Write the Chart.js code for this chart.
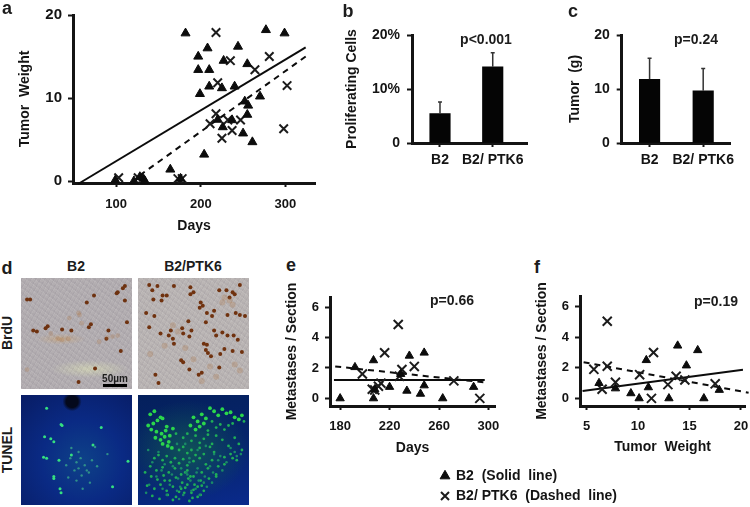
<!DOCTYPE html>
<html>
<head>
<meta charset="utf-8">
<title>Tumor panels</title>
<script src="https://cdn.jsdelivr.net/npm/chart.js@4/dist/chart.umd.min.js"></script>
<style>
  html, body { margin: 0; padding: 0; background: #fff; }
  #page { position: relative; width: 750px; height: 507px; overflow: hidden; font-family: "Liberation Sans", Arial, sans-serif; color: #1c1c1c; }
  canvas { position: absolute; filter: blur(0.4px); }
  .note { position: absolute; font-weight: bold; white-space: pre; transform: translate(-50%, -50%); }
  canvas.photo { filter: blur(0.7px); }
</style>
</head>
<body>
<div id="page"></div>
<script>
// panel a: tumor weight against days
const aTicksX = [100, 200, 300];
const aTicksY = [0, 10, 20];
const aB2Days = [182, 277, 299, 208, 244, 197, 197, 210, 227, 255, 210, 225, 240, 199, 270, 252, 256, 255, 220, 237, 226, 250, 261, 204, 164, 99, 132, 134, 128, 176, 121];
const aB2Weight = [17.8, 18.2, 17.8, 16, 16.2, 15, 13.4, 13.4, 14.5, 14.1, 11.4, 11.2, 11.4, 10.5, 10.2, 9.6, 9.1, 8, 7.4, 7.35, 6.5, 5.75, 4.7, 3.2, 1.4, 0.1, 0.3, 0, 0.5, 0.3, 0];
const aPtkDays = [218, 235, 281, 264, 220, 302, 218, 211, 232, 247, 237, 225, 298, 103, 126, 173, 178];
const aPtkWeight = [17.9, 14.5, 15, 13.4, 11.85, 11.5, 8.1, 6.9, 7.35, 7.35, 6.1, 5.15, 6.3, 0.4, 0.4, 0.3, 0.3];
const aSolidDays = [55, 324];
const aSolidFit = [-0.35, 16.1];
const aDashDays = [128, 324];
const aDashFit = [0.7, 15];

// panels b and c: bars with upward error bars
const barCats = ['B2', 'B2/ PTK6'];
const bTicksY = [0, 10, 20];
const bValues = [5.45, 14.1];
const bErrors = [2.15, 2.6];
const cTicksY = [0, 10, 20];
const cValues = [11.8, 9.66];
const cErrors = [3.9, 4.15];

// panel e: metastases against days
const metTicksY = [0, 2, 4, 6];
const eTicksX = [180, 220, 260, 300];
const eB2Days = [180, 192, 207, 207, 220, 234, 236, 245, 248, 248, 263, 288, 229, 208];
const eB2Met = [0, 2.05, 2.5, 0, 0.75, 0.5, 2.8, 0.3, 0.85, 3, 0, 0.75, 1.6, 0.6];
const ePtkDays = [198, 206, 208, 213, 211, 216, 227, 230, 228, 240, 272, 293];
const ePtkMet = [1.6, 0.6, 0.55, 1, 0.8, 3, 4.85, 1.9, 1.45, 2.1, 1.15, 0];
const eSolidDays = [175, 297];
const eSolidFit = [1.2, 1.2];
const eDashDays = [176, 297];
const eDashFit = [2.1, 1.05];

// panel f: metastases against tumor weight
const fTicksX = [5, 10, 15, 20];
const fB2Weight = [6.2, 7.8, 9.3, 10.1, 10.8, 11, 13, 13.85, 14.7, 15.8, 16.4, 17.9];
const fB2Met = [1, 0.65, 0.33, 0, 2.5, 0.72, 0, 3.45, 2.15, 3.15, 0, 0.55];
const fPtkWeight = [5.7, 6.5, 7, 7, 7.8, 10.15, 11.3, 11.5, 12.9, 13.7, 14.55, 17.5];
const fPtkMet = [1.9, 0.6, 5.05, 2.1, 1.05, 1.55, 0, 3, 0.9, 1.45, 1.2, 0.95];
const fSolidWeight = [4.6, 20.2];
const fSolidFit = [0.48, 1.87];
const fDashWeight = [4.7, 20.75];
const fDashFit = [2.37, 0.37];

// panel d: stained cells, as percent across and down each micrograph
const brduB2X = [2, 5, 8, 11.5, 20, 22, 36, 45, 60, 67, 64, 62, 81, 79, 90, 89, 97, 95, 97, 93, 52, 68, 99];
const brduB2Y = [17, 17, 47, 48, 45, 43, 46, 47, 20, 13, 41, 44, 47, 55, 10, 11, 4, 6, 18, 67, 97, 84, 39];
const brduB2PaleX = [43, 53, 52, 32, 36, 42, 80, 85, 90, 2, 25, 72, 55];
const brduB2PaleY = [35, 32, 30, 55, 56, 55, 54, 53, 52, 85, 50, 58, 40];
const brduPtkX = [7, 10, 15, 20, 24, 11, 19, 31, 47, 47, 50, 57, 56, 59, 63, 70, 68, 75, 82, 88, 90, 85, 95, 91, 95, 83, 100, 4, 12, 18, 28, 26, 30, 31, 40, 39, 45, 48, 46, 62, 70, 72, 78, 83, 89, 93, 60, 63, 64, 67, 62, 80, 88, 76, 38, 40, 75, 13, 16, 46, 55, 58, 7, 97];
const brduPtkY = [3, 8, 4, 13, 13, 17, 18, 4, 5, 12, 10, 20, 25, 23, 30, 28, 33, 8, 8, 10, 12, 15, 3, 30, 32, 32, 33, 30, 33, 50, 47, 52, 55, 60, 50, 45, 38, 47, 53, 39, 47, 52, 49, 52, 52, 56, 60, 61, 69, 72, 66, 65, 67, 70, 76, 78, 83, 90, 98, 85, 90, 88, 44, 68];
const brduPtkPaleX = [80, 85, 88, 78, 30, 35, 8, 90, 95, 50, 22, 72, 66, 42, 58];
const brduPtkPaleY = [15, 18, 22, 20, 42, 48, 70, 80, 86, 75, 62, 92, 82, 64, 96];
const tunelB2X = [21, 35, 36, 19, 25, 18, 21, 28, 74, 66, 33, 45, 28, 28, 34, 35, 85, 100];
const tunelB2Y = [9, 25, 26, 37, 39, 57, 58, 42, 28, 45, 60, 55, 76, 78, 88, 92, 86, 61];
const tunelB2DimX = [68, 54, 52, 50, 45, 60, 55, 63, 42, 50, 80, 40, 58, 65, 48, 56, 62, 44, 52, 70];
const tunelB2DimY = [47, 58, 52, 62, 48, 70, 75, 82, 77, 80, 54, 65, 65, 60, 70, 88, 72, 58, 68, 66];
// brightest cells along the top left and top band
const tunelPtkBrightX = [8, 12, 18, 6, 11, 15, 20, 24, 9, 14, 19, 23, 27, 13, 18, 22, 26, 30, 20, 25, 29, 47, 50, 54, 58, 62, 66, 70, 74, 78, 82, 86, 90, 94, 97, 52, 56, 60];
const tunelPtkBrightY = [15, 12, 18, 26, 24, 21, 19, 27, 30, 32, 34, 31, 36, 38, 40, 37, 42, 29, 44, 46, 48, 26, 18, 22, 15, 19, 9, 12, 16, 10, 14, 13, 18, 20, 16, 30, 27, 24];
const tunelPtkX = [33, 64, 68, 72, 76, 80, 84, 88, 40, 44, 48, 52, 56, 60, 64, 68, 72, 36, 40, 44, 48, 52, 56, 60, 66, 70, 78, 84, 90, 94, 99, 12, 16, 20, 24, 28, 32, 36, 40, 44, 50, 56, 62, 68, 74, 80, 86, 92, 97, 8, 14, 20, 26, 32, 38, 44, 50, 58, 64, 72, 80, 88, 3, 9, 15, 21, 27, 33, 39, 45, 51, 57, 65, 5, 12, 18, 24, 30, 36, 42, 48, 54, 60, 10, 17, 25, 33, 41, 49, 57, 72, 22, 30, 38, 46, 54, 44, 50, 58, 42, 47];
const tunelPtkY = [34, 31, 22, 28, 25, 30, 26, 24, 38, 34, 41, 36, 43, 39, 35, 44, 36, 50, 47, 53, 50, 55, 48, 54, 47, 52, 40, 46, 38, 44, 22, 58, 55, 60, 56, 62, 58, 63, 59, 65, 61, 58, 64, 60, 66, 57, 54, 60, 50, 66, 70, 67, 72, 68, 74, 70, 76, 72, 68, 74, 64, 58, 72, 76, 79, 75, 80, 77, 82, 78, 84, 80, 78, 85, 88, 84, 90, 86, 91, 87, 92, 86, 90, 95, 98, 94, 96, 92, 97, 94, 76, 80, 99, 88, 100, 96, 84, 89, 85, 72, 76];
const tunelPtkDimX = [6, 16, 34, 42, 46, 54, 62, 70, 76, 82, 86, 90, 96, 10, 22, 30, 38, 46, 54, 66, 74, 78, 92, 7, 19, 29, 35, 43, 53, 61, 69, 4, 14, 27, 37, 47, 55, 63, 20, 34, 44, 52, 60, 68, 24, 40, 48, 36, 56];
const tunelPtkDimY = [50, 52, 44, 44, 58, 50, 46, 54, 56, 62, 48, 52, 54, 62, 64, 66, 68, 62, 68, 66, 60, 70, 56, 84, 70, 74, 78, 72, 72, 76, 72, 92, 76, 84, 86, 80, 80, 86, 88, 90, 74, 88, 82, 82, 94, 94, 90, 98, 94];

const ink = '#141414';
const tickFont = { family: 'Liberation Sans', weight: 'bold', size: 13 };
const largeFont = { family: 'Liberation Sans', weight: 'bold', size: 14 };
const page = document.getElementById('page');
const lineH = 16.8;

function toPoints(xs, ys) {
  return xs.map((x, i) => ({ x: x, y: ys[i] }));
}

function note(text, x, y, size, rotate) {
  const div = document.createElement('div');
  div.className = 'note';
  div.textContent = text;
  div.style.left = x + 'px';
  div.style.top = y + 'px';
  div.style.fontSize = size + 'px';
  if (rotate) div.style.transform = 'translate(-50%, -50%) rotate(-90deg)';
  page.appendChild(div);
}

function addCanvas(left, top, w, h) {
  const canvas = document.createElement('canvas');
  canvas.width = w;
  canvas.height = h;
  canvas.style.left = left + 'px';
  canvas.style.top = top + 'px';
  canvas.style.width = w + 'px';
  canvas.style.height = h + 'px';
  page.appendChild(canvas);
  return canvas;
}

// upward-only error bars, placed with the chart's own scales
const errorBars = {
  id: 'errorBars',
  afterDatasetsDraw(chart, args, opts) {
    if (!opts.values) return;
    const ctx = chart.ctx;
    ctx.save();
    ctx.strokeStyle = '#333';
    ctx.lineWidth = 1.5;
    opts.values.forEach((v, i) => {
      const x = chart.scales.x.getPixelForValue(i + 1);
      const y0 = chart.scales.y.getPixelForValue(v);
      const y1 = chart.scales.y.getPixelForValue(v + opts.errors[i]);
      ctx.beginPath();
      ctx.moveTo(x, y0);
      ctx.lineTo(x, y1);
      ctx.moveTo(x - 2, y1);
      ctx.lineTo(x + 2, y1);
      ctx.stroke();
    });
    ctx.restore();
  }
};
Chart.register(errorBars);

function axisStyle(a) {
  const axis = {
    type: 'linear',
    min: a.min,
    max: a.max,
    offset: false,
    grid: { drawOnChartArea: false, drawTicks: true, tickLength: a.horizontal ? 4 : 5, tickWidth: 2, color: ink, offset: false },
    border: { display: true, color: ink, width: 3 },
    afterBuildTicks: s => { s.ticks = a.ticks.map(v => ({ value: v })); },
    ticks: { font: a.font || tickFont, color: ink, padding: a.pad, autoSkip: false, maxRotation: 0, minRotation: 0 },
    afterFit: s => { if (a.horizontal) s.height = a.box; else s.width = a.box; }
  };
  if (a.label) axis.ticks.callback = a.label;
  axis.title = a.title
    ? { display: true, text: a.title, font: largeFont, color: ink, padding: 0 }
    : { display: false };
  return axis;
}

// chart area edges given in page pixels, converted to the library's padding
function panelLayout(p) {
  const padLeft = p.yTitleX - p.left - lineH / 2;
  const padBottom = p.xTitleY ? p.h - (p.xTitleY - p.top) - lineH / 2 : 0;
  return {
    padding: { left: padLeft, top: p.areaT - p.top, right: p.left + p.w - p.areaR, bottom: padBottom },
    yBox: p.areaL - p.left - padLeft,
    xBox: p.top + p.h - padBottom - p.areaB
  };
}

function scatterPanel(p) {
  const lay = panelLayout(p);
  new Chart(addCanvas(p.left, p.top, p.w, p.h), {
    type: 'scatter',
    data: {
      datasets: [
        { data: toPoints(p.b2X, p.b2Y), pointStyle: 'triangle', pointRadius: p.triR, backgroundColor: '#0c0c0c', borderColor: '#0c0c0c', clip: false },
        { data: toPoints(p.ptkX, p.ptkY), pointStyle: 'crossRot', pointRadius: p.crossR, borderWidth: 2, borderColor: '#1c1c1c', backgroundColor: 'transparent', clip: false },
        { data: toPoints(p.solidX, p.solidY), showLine: true, pointRadius: 0, borderColor: '#0c0c0c', borderWidth: 2, clip: false },
        { data: toPoints(p.dashX, p.dashY), showLine: true, pointRadius: 0, borderColor: '#0c0c0c', borderWidth: 2, borderDash: [6, 5], clip: false }
      ]
    },
    options: {
      responsive: false,
      animation: false,
      layout: { padding: lay.padding },
      plugins: { legend: { display: false }, tooltip: { enabled: false } },
      scales: {
        x: axisStyle({ ticks: p.ticksX, min: p.minX, max: p.maxX, horizontal: true, box: lay.xBox, pad: p.xPad, title: p.xTitle }),
        y: axisStyle({ ticks: p.ticksY, min: p.minY, max: p.maxY, box: lay.yBox, pad: p.yPad, title: p.yTitle, font: p.yFont })
      }
    }
  });
}

function barPanel(p) {
  const lay = panelLayout(p);
  new Chart(addCanvas(p.left, p.top, p.w, p.h), {
    type: 'bar',
    data: {
      datasets: [{ data: p.values.map((v, i) => ({ x: i + 1, y: v })), backgroundColor: '#050505', barThickness: 20.5 }]
    },
    options: {
      responsive: false,
      animation: false,
      layout: { padding: lay.padding },
      plugins: {
        legend: { display: false },
        tooltip: { enabled: false },
        errorBars: { values: p.values, errors: p.errors }
      },
      scales: {
        x: axisStyle({ ticks: [1, 2], min: p.minX, max: p.maxX, horizontal: true, box: lay.xBox, pad: 5, label: v => barCats[v - 1], font: largeFont }),
        y: axisStyle({ ticks: p.ticksY, min: 0, max: 20, box: lay.yBox, pad: 7, label: p.yLabel, title: p.yTitle, font: largeFont })
      }
    }
  });
}

function photoPanel(left, top, w, h, bg, sets) {
  const canvas = addCanvas(left, top, w, h);
  canvas.className = 'photo';
  canvas.style.background = bg;
  new Chart(canvas, {
    type: 'scatter',
    data: { datasets: sets.map(s => ({ data: toPoints(s.x, s.y), pointRadius: s.r, backgroundColor: s.color, borderWidth: 0, clip: false })) },
    options: {
      responsive: false,
      animation: false,
      plugins: { legend: { display: false }, tooltip: { enabled: false } },
      scales: {
        x: { display: false, min: 0, max: 100 },
        y: { display: false, min: 0, max: 100, reverse: true }
      }
    }
  });
}

scatterPanel({
  left: 0, top: 0, w: 330, h: 240, areaL: 73, areaR: 315, areaT: 6, areaB: 183, yTitleX: 25, xTitleY: 226,
  ticksX: aTicksX, ticksY: aTicksY, minX: 49, maxX: 335, minY: -0.23, maxY: 20, xPad: 10, yPad: 6, triR: 5.2, crossR: 6,
  yFont: { family: 'Liberation Sans', weight: 'bold', size: 15 },
  xTitle: 'Days', yTitle: 'Tumor  Weight',
  b2X: aB2Days, b2Y: aB2Weight, ptkX: aPtkDays, ptkY: aPtkWeight,
  solidX: aSolidDays, solidY: aSolidFit, dashX: aDashDays, dashY: aDashFit
});

barPanel({
  left: 330, top: 0, w: 205, h: 190, areaL: 412, areaR: 527, areaT: 35, areaB: 143, yTitleX: 352,
  ticksY: bTicksY, minX: 0.469, maxX: 2.65, values: bValues, errors: bErrors,
  yTitle: 'Proliferating Cells', yLabel: v => (v === 0 ? '0' : v + '%')
});

barPanel({
  left: 560, top: 0, w: 190, h: 190, areaL: 621.7, areaR: 730, areaT: 35, areaB: 143, yTitleX: 575,
  ticksY: cTicksY, minX: 0.48, maxX: 2.5, values: cValues, errors: cErrors,
  yTitle: 'Tumor  (g)', yLabel: null
});

scatterPanel({
  left: 280, top: 280, w: 250, h: 180, areaL: 330, areaR: 495, areaT: 297, areaB: 406, yTitleX: 292, xTitleY: 448,
  ticksX: eTicksX, ticksY: metTicksY, minX: 171.8, maxX: 305.3, minY: -0.5, maxY: 6.66, xPad: 9, yPad: 6, triR: 4.8, crossR: 6.4,
  xTitle: 'Days', yTitle: 'Metastases / Section',
  b2X: eB2Days, b2Y: eB2Met, ptkX: ePtkDays, ptkY: ePtkMet,
  solidX: eSolidDays, solidY: eSolidFit, dashX: eDashDays, dashY: eDashFit
});

scatterPanel({
  left: 530, top: 280, w: 260, h: 180, areaL: 580, areaR: 745, areaT: 296, areaB: 406, yTitleX: 542, xTitleY: 447,
  ticksX: fTicksX, ticksY: metTicksY, minX: 4.35, maxX: 20.4, minY: -0.5, maxY: 6.7, xPad: 9, yPad: 6, triR: 4.8, crossR: 6.4,
  xTitle: 'Tumor  Weight', yTitle: 'Metastases / Section',
  b2X: fB2Weight, b2Y: fB2Met, ptkX: fPtkWeight, ptkY: fPtkMet,
  solidX: fSolidWeight, solidY: fSolidFit, dashX: fDashWeight, dashY: fDashFit
});

// micrographs of panel d
const grain = 'repeating-linear-gradient(37deg, rgba(255,255,255,.05) 0 1px, rgba(80,70,90,.05) 1px 3px, transparent 3px 5px), repeating-linear-gradient(-61deg, rgba(255,255,255,.05) 0 1px, rgba(70,60,90,.05) 1px 2px, transparent 2px 4px)';
photoPanel(21, 278, 111, 111, grain + ', radial-gradient(ellipse 35% 8% at 62% 82%, #cdceb4 0, rgba(200,200,170,0) 100%), radial-gradient(ellipse 22% 5% at 36% 55%, #c0a78c 0, rgba(190,170,140,0) 100%), #b3aeb1', [
  { x: brduB2PaleX, y: brduB2PaleY, r: 2.4, color: 'rgba(170,110,60,.25)' },
  { x: brduB2X, y: brduB2Y, r: 2, color: '#6e3210' }
]);
photoPanel(138, 278, 111, 111, grain + ', #bab5b4', [
  { x: brduPtkPaleX, y: brduPtkPaleY, r: 3, color: 'rgba(170,110,60,.25)' },
  { x: brduPtkX, y: brduPtkY, r: 2, color: '#70320f' }
]);
photoPanel(21, 395, 111, 110, 'radial-gradient(circle at 46% 6%, #04091c 0, #04091c 5%, rgba(0,0,0,0) 8%), radial-gradient(circle at 55% 60%, #0e4288 0, #0a2a84 45%, #081c64 100%)', [
  { x: tunelB2DimX, y: tunelB2DimY, r: 1.2, color: '#2f8f8a' },
  { x: tunelB2X, y: tunelB2Y, r: 1.5, color: '#35e080' }
]);
photoPanel(138, 395, 111, 110, 'radial-gradient(ellipse 55% 45% at 45% 50%, rgba(20,100,80,.7), rgba(20,90,80,0)), linear-gradient(165deg, #04205c 0, #06246a 50%, #0a2a8c 100%)', [
  { x: tunelPtkDimX, y: tunelPtkDimY, r: 1.3, color: '#1a8a68' },
  { x: tunelPtkX, y: tunelPtkY, r: 1.4, color: '#1fae58' },
  { x: tunelPtkBrightX, y: tunelPtkBrightY, r: 1.9, color: '#2bd64c' }
]);

// legend under panels e and f, built by the library from two empty series
const legendNames = ['B2  (Solid  line)', 'B2/ PTK6  (Dashed  line)'];
new Chart(addCanvas(435, 463, 420, 80), {
  type: 'scatter',
  data: {
    datasets: [
      { label: legendNames[0], data: [], pointStyle: 'triangle', backgroundColor: '#0c0c0c', borderColor: '#0c0c0c' },
      { label: legendNames[1], data: [], pointStyle: 'crossRot', backgroundColor: 'transparent', borderColor: '#1c1c1c', borderWidth: 2 }
    ]
  },
  options: {
    responsive: false,
    animation: false,
    layout: { padding: 0 },
    scales: { x: { display: false }, y: { display: false } },
    plugins: {
      tooltip: { enabled: false },
      legend: {
        position: 'left',
        align: 'start',
        labels: { usePointStyle: true, boxHeight: 8, boxWidth: 8, padding: 6, font: largeFont, color: ink }
      }
    }
  }
});

// panel letters and the p values
note('a', 7, 8, 18);
note('b', 348, 11, 18);
note('c', 573, 11, 18);
note('d', 7, 268, 18);
note('e', 291, 265, 18);
note('f', 537, 267, 18);
note('p<0.001', 486, 39, 14);
note('p=0.24', 696, 39, 14);
note('p=0.66', 452, 300, 14);
note('p=0.19', 716, 301, 14);
note('B2', 76, 266, 14);
note('B2/PTK6', 193, 266, 14);
note('BrdU', 7, 333, 14, true);
note('TUNEL', 7, 450, 14, true);
note('50µm', 115, 378, 10);
const scaleBar = document.createElement('div');
scaleBar.style.cssText = 'position:absolute;left:103px;top:384px;width:24px;height:3px;background:#000;';
page.appendChild(scaleBar);
</script>
</body>
</html>
